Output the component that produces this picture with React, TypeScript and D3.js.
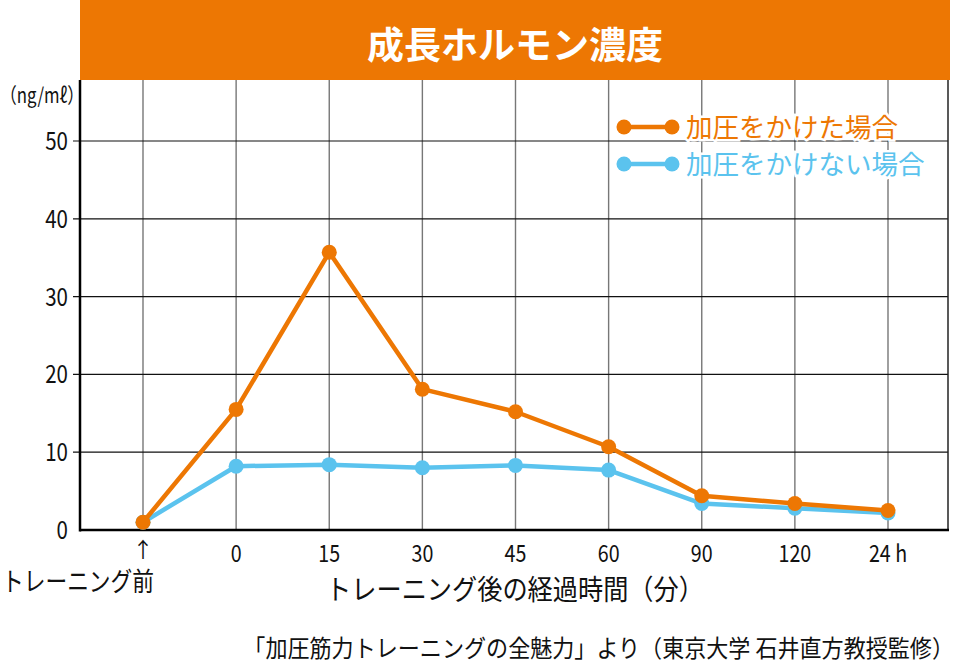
import React, { useEffect, useRef } from 'react';
import * as d3 from 'd3';

const categories = ['pre', '0', '15', '30', '45', '60', '90', '120', '24h'];
const tickLabels = ['↑', '0', '15', '30', '45', '60', '90', '120', '24 h'];
const pressured = [1.0, 15.5, 35.7, 18.1, 15.2, 10.7, 4.4, 3.4, 2.5];
const normal = [1.0, 8.2, 8.4, 8.0, 8.3, 7.7, 3.4, 2.8, 2.2];
const yTicks = [0, 10, 20, 30, 40, 50];
const seriesNames = ['加圧をかけた場合', '加圧をかけない場合'];

const ORANGE = '#ED7703';
const BLUE = '#5BC3EE';
const FONT = '"Noto Sans CJK JP", "Noto Sans", sans-serif';

const App: React.FC = () => {
  const ref = useRef<SVGSVGElement>(null);

  useEffect(() => {
    if (!ref.current) return;
    const svg = d3.select(ref.current);
    svg.selectAll('*').remove();

    const left = 80;
    const right = 948;
    const top = 80;
    const bottom = 530;

    const x = d3.scalePoint<string>().domain(categories).range([143, 888]);
    const y = d3.scaleLinear().domain([0, 50]).range([bottom, 141]);

    // narrow text, like the original's condensed typeface
    const label = (tx: number, ty: number, txt: string, size: number, anchor = 'middle', squeeze = 0.82) =>
      svg
        .append('text')
        .attr('transform', `translate(${tx},${ty}) scale(${squeeze},1)`)
        .attr('text-anchor', anchor)
        .attr('fill', '#111')
        .style('font-family', FONT)
        .style('font-size', `${size}px`)
        .text(txt);

    // title bar
    svg.append('rect').attr('x', left).attr('y', 0).attr('width', 950 - left).attr('height', top).attr('fill', ORANGE);
    svg
      .append('text')
      .attr('x', 515)
      .attr('y', 59)
      .attr('text-anchor', 'middle')
      .attr('fill', '#fff')
      .style('font-family', FONT)
      .style('font-size', '37px')
      .style('font-weight', 'bold')
      .text('成長ホルモン濃度');

    // vertical grid
    svg
      .append('g')
      .selectAll('line')
      .data(categories)
      .enter()
      .append('line')
      .attr('x1', (d) => x(d)!)
      .attr('x2', (d) => x(d)!)
      .attr('y1', top)
      .attr('y2', bottom)
      .attr('stroke', '#777')
      .attr('stroke-width', 1.4);

    // horizontal grid + ticks
    svg
      .append('g')
      .selectAll('line')
      .data(yTicks.filter((d) => d > 0))
      .enter()
      .append('line')
      .attr('x1', left - 7)
      .attr('x2', right)
      .attr('y1', (d) => y(d))
      .attr('y2', (d) => y(d))
      .attr('stroke', '#111')
      .attr('stroke-width', 1.2);

    svg.append('line').attr('x1', right).attr('x2', right).attr('y1', top).attr('y2', bottom).attr('stroke', '#222').attr('stroke-width', 1.5);
    svg.append('line').attr('x1', left).attr('x2', left).attr('y1', top).attr('y2', bottom + 1.5).attr('stroke', '#000').attr('stroke-width', 2.5);
    svg.append('line').attr('x1', left).attr('x2', right + 1).attr('y1', bottom).attr('y2', bottom).attr('stroke', '#000').attr('stroke-width', 2.5);

    // y labels
    yTicks.forEach((d) => label(68, y(d) + 9, String(d), 25, 'end'));
    label(0, 103, '（ng/mℓ）', 21, 'start', 0.8);

    // x labels
    categories.forEach((c, i) => {
      if (i === 0) label(x(c)!, 557, tickLabels[i], 21, 'middle', 1);
      else label(x(c)!, 562, tickLabels[i], 24);
    });
    label(78, 591, 'トレーニング前', 26.5);
    label(515, 600, 'トレーニング後の経過時間（分）', 28, 'middle', 0.9);
    label(954, 657, '「加圧筋力トレーニングの全魅力」より（東京大学 石井直方教授監修）', 24, 'end', 0.92);

    // series
    const line = d3
      .line<number>()
      .x((_d, i) => x(categories[i])!)
      .y((d) => y(d));

    const drawSeries = (values: number[], color: string) => {
      const g = svg.append('g');
      g.append('path')
        .attr('d', line(values))
        .attr('fill', 'none')
        .attr('stroke', color)
        .attr('stroke-width', 4.5)
        .attr('stroke-linejoin', 'round');
      g.selectAll('circle')
        .data(values)
        .enter()
        .append('circle')
        .attr('cx', (_d, i) => x(categories[i])!)
        .attr('cy', (d) => y(d))
        .attr('r', 7.5)
        .attr('fill', color);
    };
    drawSeries(normal, BLUE);
    drawSeries(pressured, ORANGE);

    // legend
    [ORANGE, BLUE].forEach((color, i) => {
      const ly = 127 + i * 37;
      const g = svg.append('g');
      g.append('line').attr('x1', 624).attr('x2', 672).attr('y1', ly).attr('y2', ly).attr('stroke', color).attr('stroke-width', 4.5);
      g.append('circle').attr('cx', 624).attr('cy', ly).attr('r', 7.5).attr('fill', color);
      g.append('circle').attr('cx', 672).attr('cy', ly).attr('r', 7.5).attr('fill', color);
      g.append('text')
        .attr('x', 686)
        .attr('y', ly + 10)
        .style('font-family', FONT)
        .style('font-size', '26.5px')
        .style('paint-order', 'stroke')
        .attr('stroke', '#fff')
        .attr('stroke-width', 5)
        .attr('fill', color)
        .text(seriesNames[i]);
    });
  }, []);

  return (
    <svg
      ref={ref}
      width={954}
      height={668}
      style={{ position: 'absolute', left: 0, top: 0, display: 'block', background: '#fff' }}
    />
  );
};

export default App;
